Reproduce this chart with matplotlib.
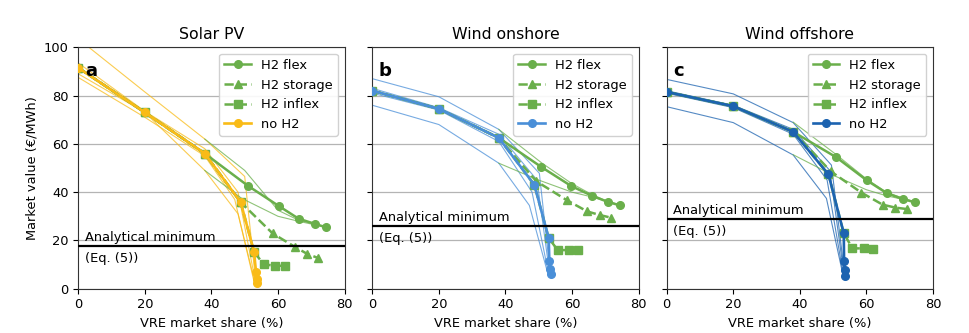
import matplotlib
matplotlib.use("Agg")
import matplotlib.pyplot as plt

plt.rcParams["font.family"] = ["DejaVu Sans"]
plt.rcParams["font.size"] = 9.4

GREEN = "#6aaf4b"
COLORS = ["#f9bb17", "#4a8fd8", "#1c63b0"]
titles = ["Solar PV", "Wind onshore", "Wind offshore"]
letters = ["a", "b", "c"]
analytical_min = [17.7, 26.0, 28.9]

# ---- Solar PV ----
pv_noh2_x = [0, 20, 38, 48.8, 52.8, 53.4, 53.6, 53.8]
pv_noh2_y = [91.5, 73, 56, 35.8, 15.3, 7, 4, 2.5]
pv_flex_x = [0, 20, 38, 50.9, 60.2, 66.2, 71, 74.5]
pv_flex_y = [91.5, 73, 56, 42.7, 34.3, 29, 26.9, 25.4]
pv_stor_x = [0, 20, 38, 48.8, 58.4, 65, 68.8, 72.1]
pv_stor_y = [91.5, 73, 56, 35.8, 22.9, 17.4, 14.4, 12.7]
pv_infl_x = [0, 20, 38, 48.8, 52.8, 55.7, 59.2, 62]
pv_infl_y = [91.5, 73, 56, 35.8, 15.3, 10.1, 9.5, 9.5]
pv_thin_noh2 = [
    ([0, 20, 38, 50, 53.3], [103.5, 81.5, 62, 46.5, 3]),
    ([0, 20, 38, 48, 53], [89, 73, 49, 31, 3]),
    ([0, 20, 38, 48, 53.2], [93.5, 73.5, 58, 40, 3]),
    ([0, 20, 38, 47, 52.8], [87.5, 71, 55, 37, 3]),
]
pv_thin_flex = [
    ([38, 50, 60, 66, 72, 74], [62, 49, 32.5, 28.5, 26.5, 25.5]),
    ([38, 49, 60, 66, 71], [49, 37.5, 30, 28, 26.5]),
]

# ---- Wind onshore ----
on_noh2_x = [0, 20, 38, 48.7, 53, 53.2, 53.4, 53.7]
on_noh2_y = [82, 74.5, 62.5, 43, 21, 11.5, 8, 6]
on_flex_x = [0, 20, 38, 50.7, 59.8, 66, 70.7, 74.4]
on_flex_y = [82, 74.5, 62.5, 50.5, 42.5, 38.5, 36, 34.5]
on_stor_x = [0, 20, 38, 49.3, 58.4, 64.6, 68.4, 71.8]
on_stor_y = [82, 74.5, 62.5, 44.5, 36.7, 32, 30.5, 29.4]
on_infl_x = [0, 20, 38, 48.7, 53, 55.7, 59, 61.8]
on_infl_y = [82, 74.5, 62.5, 43, 21, 16, 16, 16]
on_thin_noh2 = [
    ([0, 20, 38, 50.2, 53.5], [87, 79.5, 66, 47.8, 6]),
    ([0, 20, 38, 47.2, 52.8], [76, 68, 52, 34.5, 6]),
    ([0, 20, 38, 49.5, 53.3], [83, 75, 64, 45, 6]),
    ([0, 20, 38, 48, 53], [81, 74, 61, 40, 6]),
]
on_thin_flex = [
    ([38, 51, 60, 66, 71, 74], [66, 52, 43.5, 39, 36, 34.5]),
    ([38, 50, 60, 66, 71, 74], [52, 45, 40, 38, 36, 35]),
]

# ---- Wind offshore ----
off_noh2_x = [0, 20, 38, 48.6, 53.2, 53.3, 53.5, 53.7]
off_noh2_y = [81.5, 75.6, 65, 47.4, 23, 11.5, 7.7, 5.2]
off_flex_x = [0, 20, 38, 51, 60.1, 66.2, 70.9, 74.5]
off_flex_y = [81.5, 75.6, 65, 54.4, 44.9, 39.5, 37.2, 35.8]
off_stor_x = [0, 20, 38, 49.3, 58.5, 64.9, 68.7, 72.1]
off_stor_y = [81.5, 75.6, 65, 48.6, 39.8, 34.8, 33.6, 33]
off_infl_x = [0, 20, 38, 48.6, 53.2, 55.8, 59.2, 62]
off_infl_y = [81.5, 75.6, 65, 47.4, 23, 16.7, 16.7, 16.5]
off_thin_noh2 = [
    ([0, 20, 38, 49.5, 53.5], [86.7, 80.7, 68.8, 51.2, 5.5]),
    ([0, 20, 38, 48, 53], [75.4, 68.8, 55.4, 37.4, 5.5]),
    ([0, 20, 38, 49, 53.3], [82, 76, 66, 49, 5.5]),
    ([0, 20, 38, 48.2, 53.1], [81, 75, 64, 45, 5.5]),
]
off_thin_flex = [
    ([38, 51, 60, 66, 71, 74.5], [69, 55.5, 45.5, 40, 37.5, 36]),
    ([38, 50, 60, 66, 71, 74], [55.5, 47, 41, 38.5, 37, 36]),
]

panels = [
    (pv_noh2_x, pv_noh2_y, pv_flex_x, pv_flex_y, pv_stor_x, pv_stor_y,
     pv_infl_x, pv_infl_y, pv_thin_noh2, pv_thin_flex),
    (on_noh2_x, on_noh2_y, on_flex_x, on_flex_y, on_stor_x, on_stor_y,
     on_infl_x, on_infl_y, on_thin_noh2, on_thin_flex),
    (off_noh2_x, off_noh2_y, off_flex_x, off_flex_y, off_stor_x, off_stor_y,
     off_infl_x, off_infl_y, off_thin_noh2, off_thin_flex),
]

fig = plt.figure(figsize=(9.7, 3.33), dpi=100)
lefts = [0.0807, 0.3838, 0.6873]
width, bottom, height = 0.2745, 0.133, 0.725

for i, (nx, ny, fx, fy, sx, sy, ix, iy, thin_n, thin_f) in enumerate(panels):
    ax = fig.add_axes([lefts[i], bottom, width, height])
    c = COLORS[i]
    for tx, ty in thin_n:
        ax.plot(tx, ty, color=c, lw=0.8, alpha=0.75, zorder=2)
    for tx, ty in thin_f:
        ax.plot(tx, ty, color=GREEN, lw=0.8, alpha=0.75, zorder=2)
    ax.plot(fx, fy, color=GREEN, lw=1.8, marker="o", ms=5.5, label="H2 flex", zorder=3)
    ax.plot(sx, sy, color=GREEN, lw=1.8, ls="--", marker="^", ms=6,
            label="H2 storage", zorder=3)
    ax.plot(ix, iy, color=GREEN, lw=1.8, ls="--", marker="s", ms=5.5,
            label="H2 inflex", zorder=3)
    ax.plot(nx, ny, color=c, lw=1.9, marker="o", ms=5.5, label="no H2", zorder=4)

    am = analytical_min[i]
    ax.axhline(am, color="black", lw=1.6, zorder=5)
    ax.text(2, am + 1.9, "Analytical minimum", ha="left", va="baseline", zorder=6)
    ax.text(2, am - 2.4, "(Eq. (5))", ha="left", va="top", zorder=6)
    ax.text(0.025, 0.9, letters[i], transform=ax.transAxes, fontsize=13,
            fontweight="bold", ha="left", va="center", zorder=7)

    ax.set_xlim(0, 80)
    ax.set_ylim(0, 100)
    ax.set_xticks([0, 20, 40, 60, 80])
    ax.set_yticks([0, 20, 40, 60, 80, 100])
    ax.yaxis.grid(True, color="#b4b4b4", lw=0.9)
    ax.set_axisbelow(True)
    ax.set_title(titles[i], fontsize=11.3, pad=6)
    ax.set_xlabel("VRE market share (%)")
    if i == 0:
        ax.set_ylabel("Market value (€/MWh)")
    else:
        ax.set_yticklabels([])
    for sp in ax.spines.values():
        sp.set_color("#333333")
    ax.legend(loc="upper right", fontsize=9.4, framealpha=0.9,
              borderaxespad=0.5)

fig.savefig("out.png", dpi=100)
